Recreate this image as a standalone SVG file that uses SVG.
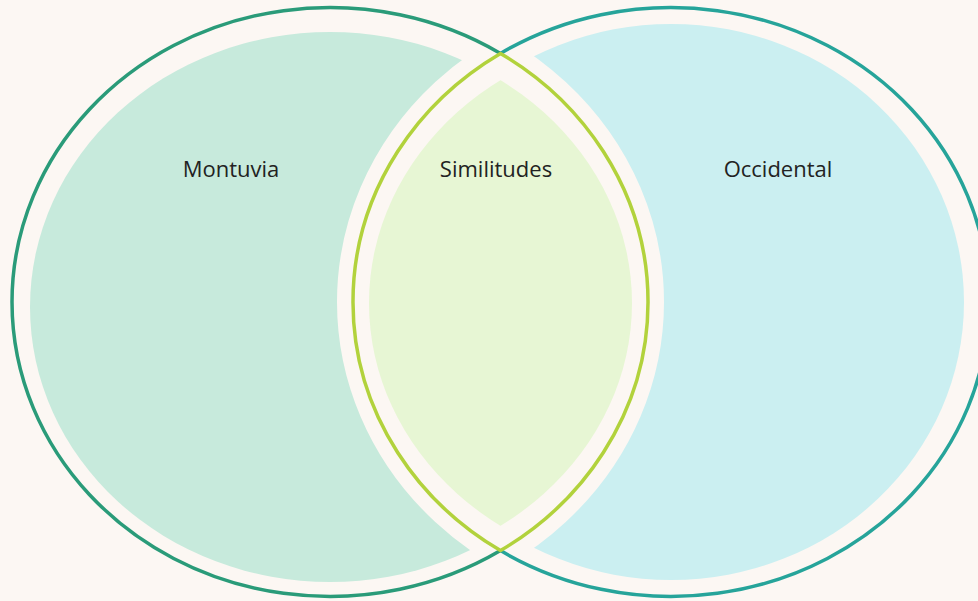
<svg xmlns="http://www.w3.org/2000/svg" width="978" height="601" viewBox="0 0 978 601">
  <style>
    .lbl { font-family: "Open Sans", "Liberation Sans", sans-serif; font-size: 22px; fill: #222; text-anchor: middle; }
    .gap { fill: #fcf7f3; stroke: #fcf7f3; stroke-width: 32; }
    .outline { fill: none; stroke-width: 3.5; stroke-linejoin: round; }
  </style>
  <defs>
    <clipPath id="clipL"><ellipse cx="330" cy="302" rx="318" ry="294.5"/></clipPath>
    <clipPath id="clipR"><ellipse cx="671" cy="302" rx="318" ry="294.5"/></clipPath>
    <clipPath id="clipLin"><ellipse cx="330" cy="303" rx="302" ry="270"/></clipPath>
  </defs>
  <rect width="978" height="601" fill="#fcf7f3"/>
  <g id="montuvia">
    <ellipse cx="330" cy="307" rx="300" ry="275" fill="#c7eadc"/>
  </g>
  <g id="occidental">
    <ellipse cx="671" cy="302" rx="293" ry="278" fill="#cbeff1"/>
  </g>
  <g id="gaps">
    <g clip-path="url(#clipL)">
      <ellipse class="gap" cx="671" cy="302" rx="318" ry="294.5"/>
    </g>
    <g clip-path="url(#clipR)">
      <ellipse class="gap" cx="330" cy="302" rx="318" ry="294.5"/>
    </g>
  </g>
  <g id="similitudes">
    <g clip-path="url(#clipLin)">
      <ellipse cx="671" cy="303" rx="302" ry="270" fill="#e7f6d4"/>
    </g>
  </g>
  <g id="connectors">
    <path class="outline" stroke="#2a9b79" d="M 500.5 53.4 A 318 294.5 0 1 0 500.5 550.6"/>
    <path class="outline" stroke="#26a49a" d="M 500.5 53.4 A 318 294.5 0 1 1 500.5 550.6"/>
    <path class="outline" stroke="#b2d23c" d="M 500.5 53.4 A 318 294.5 0 0 1 500.5 550.6 A 318 294.5 0 0 1 500.5 53.4 Z"/>
  </g>
  <g id="labels">
    <text class="lbl" x="231" y="177">Montuvia</text>
    <text class="lbl" x="496" y="177">Similitudes</text>
    <text class="lbl" x="778" y="177">Occidental</text>
  </g>
</svg>
